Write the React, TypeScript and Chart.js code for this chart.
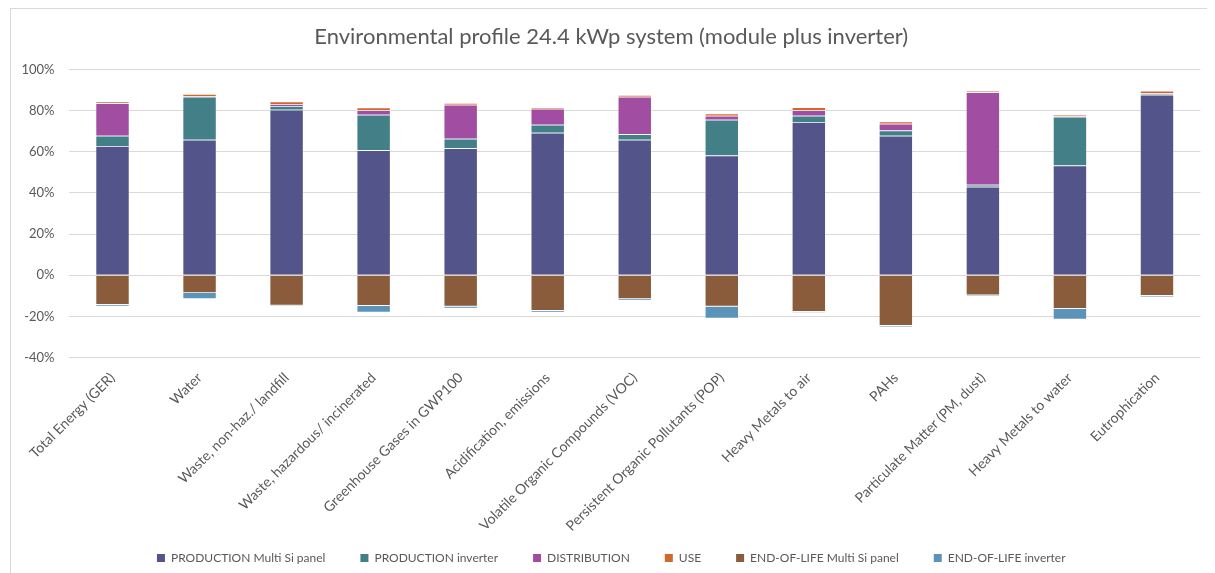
import React, { useEffect, useRef } from "react";
import { Chart, registerables } from "chart.js";

Chart.register(...registerables);

const categories = [
  "Total Energy (GER)",
  "Water",
  "Waste, non-haz./ landfill",
  "Waste, hazardous/ incinerated",
  "Greenhouse Gases in GWP100",
  "Acidification, emissions",
  "Volatile Organic Compounds (VOC)",
  "Persistent Organic Pollutants (POP)",
  "Heavy Metals to air",
  "PAHs",
  "Particulate Matter (PM, dust)",
  "Heavy Metals to water",
  "Eutrophication",
];

// Shares of each life-cycle stage, in percent
const productionPanel = [62.8, 65.8, 80.4, 60.7, 61.7, 69.2, 65.8, 58.1, 74.5, 67.7, 43.0, 53.3, 87.7];
const productionInverter = [4.9, 20.9, 1.8, 17.3, 4.6, 3.9, 2.7, 17.4, 3.0, 2.6, 1.0, 23.7, 0.5];
const distribution = [15.8, 0.3, 1.0, 2.2, 16.5, 7.8, 18.2, 2.0, 2.7, 3.3, 44.9, 0.2, 0.2];
const use = [0.9, 1.0, 1.2, 1.3, 0.9, 0.7, 0.9, 1.1, 1.4, 1.1, 0.6, 0.8, 1.2];
const endOfLifePanel = [-14.4, -8.7, -14.7, -14.9, -15.2, -17.3, -11.6, -15.2, -17.8, -24.6, -9.7, -16.3, -10.0];
const endOfLifeInverter = [-0.8, -2.9, -0.5, -3.2, -1.0, -0.8, -0.7, -5.9, -0.5, -0.7, -0.6, -5.2, -0.6];

const seriesNames = [
  "PRODUCTION Multi Si panel",
  "PRODUCTION inverter",
  "DISTRIBUTION",
  "USE",
  "END-OF-LIFE Multi Si panel",
  "END-OF-LIFE inverter",
];
const seriesColors = ["#53548a", "#437f86", "#a04da2", "#d0682e", "#8a5c3c", "#5c93b8"];

const yTicks = { min: -40, max: 100, step: 20 };

const TEXT = "#595959";
const GRID = "#d9d9d9";
const FONT = "Lato";

// Moves the legend row vertically after layout so the rotated
// category labels above it keep their full room.
const legendOffset = {
  id: "legendOffset",
  afterLayout(chart: any, _args: any, opts: any) {
    const l = chart.legend;
    if (l && opts && opts.dy) {
      l.top += opts.dy;
      l.bottom += opts.dy;
    }
  },
};

export default function App() {
  const canvasRef = useRef<HTMLCanvasElement | null>(null);

  useEffect(() => {
    if (!canvasRef.current) return;
    const values = [productionPanel, productionInverter, distribution, use, endOfLifePanel, endOfLifeInverter];
    const chart = new Chart(canvasRef.current, {
      type: "bar",
      plugins: [legendOffset],
      data: {
        labels: categories,
        datasets: values.map((data, i) => ({
          label: seriesNames[i],
          data,
          backgroundColor: seriesColors[i],
          borderColor: "rgba(255,255,255,0.55)",
          borderWidth: 0.75,
          barPercentage: 0.39,
          categoryPercentage: 1,
        })),
      },
      options: {
        responsive: false,
        animation: false,
        layout: { padding: { left: 14, right: 14.5, top: 0, bottom: -15 } },
        plugins: {
          legendOffset: { dy: -14 },
          title: {
            display: true,
            text: "Environmental profile 24.4 kWp system (module plus inverter)",
            color: TEXT,
            font: { family: FONT, size: 22, weight: "normal" },
            padding: { top: 16, bottom: 19 },
          },
          legend: {
            position: "bottom",
            labels: {
              color: TEXT,
              font: { family: FONT, size: 12 },
              boxWidth: 8,
              boxHeight: 8,
              padding: 35,
              generateLabels: (c: any) =>
                Chart.defaults.plugins.legend.labels
                  .generateLabels(c)
                  .map((l: any) => ({ ...l, lineWidth: 0 })),
            },
          },
          tooltip: { enabled: false },
        },
        scales: {
          x: {
            stacked: true,
            grid: { display: false },
            border: { display: false },
            ticks: {
              color: TEXT,
              font: { family: FONT, size: 14 },
              maxRotation: 45,
              minRotation: 45,
              autoSkip: false,
              padding: 4,
            },
            afterFit: (s: any) => {
              s.height = 173.5;
            },
          },
          y: {
            stacked: true,
            min: yTicks.min,
            max: yTicks.max,
            grid: { color: GRID, lineWidth: 1, drawTicks: false },
            border: { display: false },
            ticks: {
              stepSize: yTicks.step,
              color: TEXT,
              font: { family: FONT, size: 13 },
              padding: 14.5,
              callback: (v: any) => v + "%",
            },
            afterFit: (s: any) => {
              s.width = 47;
            },
          },
        },
      },
    });
    return () => chart.destroy();
  }, []);

  return (
    <div style={{ position: "relative", width: 1207, height: 565 }}>
      <canvas ref={canvasRef} width={1207} height={565} style={{ display: "block" }} />
      <div
        style={{
          position: "absolute",
          left: 2,
          top: 0,
          width: 1205,
          height: 565,
          borderTop: `1px solid ${GRID}`,
          borderLeft: `1px solid ${GRID}`,
          pointerEvents: "none",
        }}
      />
    </div>
  );
}
